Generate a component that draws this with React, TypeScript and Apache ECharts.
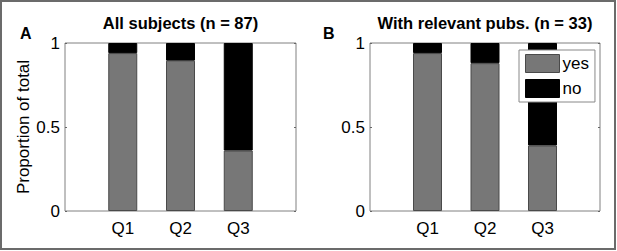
import React, { useEffect, useRef } from "react";
import * as echarts from "echarts";

const categories = ["Q1", "Q2", "Q3"];
const yesAll = [0.94, 0.895, 0.36];
const noAll = [0.06, 0.105, 0.64];
const yesPubs = [0.94, 0.88, 0.39];
const noPubs = [0.06, 0.12, 0.61];
const yTicks = [0, 0.5, 1];
const titles = ["All subjects (n = 87)", "With relevant pubs. (n = 33)"];
const panelLabels = ["A", "B"];
const seriesNames = ["yes", "no"];

const FONT = "'Liberation Sans', Arial, Helvetica, sans-serif";
const GRAY = "#777777";

export default function App() {
  const ref = useRef<HTMLDivElement>(null);
  useEffect(() => {
    if (!ref.current) return;
    const chart = echarts.init(ref.current, undefined, { renderer: "svg" });
    const grids = [
      { left: 65, top: 43, width: 231, height: 168 },
      { left: 370, top: 43, width: 230, height: 168 },
    ];
    const axisCats = ["", ...categories, ""];
    const padData = (vals: number[]) => [null, ...vals, null];
    const xAxes: any[] = [];
    const yAxes: any[] = [];
    grids.forEach((_, gi) => {
      xAxes.push({
        type: "category",
        gridIndex: gi,
        data: axisCats,
        boundaryGap: false,
        splitLine: { show: false },
        axisLine: { show: false },
        axisTick: { show: false },
        axisLabel: {
          color: "#000",
          fontSize: 17,
          fontFamily: FONT,
          margin: 9,
          interval: 0,
        },
      });
      yAxes.push({
        type: "value",
        gridIndex: gi,
        min: yTicks[0],
        max: yTicks[yTicks.length - 1],
        interval: 0.5,
        splitLine: { show: false },
        axisLine: { show: false },
        axisTick: { show: true, inside: true, length: 2, lineStyle: { color: "#666" } },
        axisLabel: { color: "#000", fontSize: 17, fontFamily: FONT, margin: 5 },
        name: gi === 0 ? "Proportion of total" : "",
        nameLocation: "middle",
        nameGap: 33,
        nameTextStyle: { color: "#000", fontSize: 17, fontFamily: FONT },
      });
      yAxes.push({
        type: "value",
        gridIndex: gi,
        position: "right",
        min: yTicks[0],
        max: yTicks[yTicks.length - 1],
        interval: 0.5,
        splitLine: { show: false },
        axisLine: { show: false },
        axisTick: { show: true, inside: true, length: 2, lineStyle: { color: "#666" } },
        axisLabel: { show: false },
      });
    });
    const data = [
      [yesAll, noAll],
      [yesPubs, noPubs],
    ];
    const series: any[] = [];
    data.forEach((pair, gi) => {
      pair.forEach((vals, si) => {
        series.push({
          type: "bar",
          name: seriesNames[si],
          xAxisIndex: gi,
          yAxisIndex: gi * 2,
          stack: "s" + gi,
          barWidth: 29,
          data: padData(vals),
          itemStyle: {
            color: si === 0 ? GRAY : "#000",
            borderColor: si === 0 ? "#4a4a4a" : "#000",
            borderWidth: 1,
          },
        });
      });
    });
    chart.setOption({
      animation: false,
      backgroundColor: "#fff",
      grid: grids.map((g) => ({
        ...g,
        show: true,
        borderColor: "#808080",
        borderWidth: 1,
        backgroundColor: "transparent",
      })),
      title: titles.map((t, i) => ({
        text: t,
        left: grids[i].left + grids[i].width / 2,
        top: 14,
        padding: 0,
        textAlign: "center",
        textStyle: { fontSize: 16.5, fontWeight: "bold", color: "#000", fontFamily: FONT },
      })),
      xAxis: xAxes,
      yAxis: yAxes,
      legend: {
        data: seriesNames,
        orient: "vertical",
        left: 519,
        top: 50,
        padding: [4, 6, 4, 6],
        itemGap: 6,
        itemWidth: 34,
        itemHeight: 18,
        itemStyle: { borderWidth: 1 },
        icon: "rect",
        borderColor: "#888",
        borderWidth: 1,
        borderRadius: 0,
        backgroundColor: "#fff",
        textStyle: { fontSize: 17, color: "#000", fontFamily: FONT, padding: [0, 0, 0, -2] },
        selectedMode: false,
      },
      graphic: [
        ...panelLabels.map((l, i) => ({
          type: "text",
          left: i === 0 ? 20 : 323,
          top: 25,
          style: { text: l, fontSize: 16, fontWeight: "bold", fill: "#000", fontFamily: FONT },
        })),
        {
          type: "rect",
          shape: { x: 1, y: 1, width: 614, height: 248 },
          style: { fill: "none", stroke: "#6b6b6b", lineWidth: 2 },
          silent: true,
        },
      ],
      series,
    });
    return () => chart.dispose();
  }, []);
  return (
    <div
      ref={ref}
      style={{ position: "fixed", left: 0, top: 0, width: 617, height: 251 }}
    />
  );
}
